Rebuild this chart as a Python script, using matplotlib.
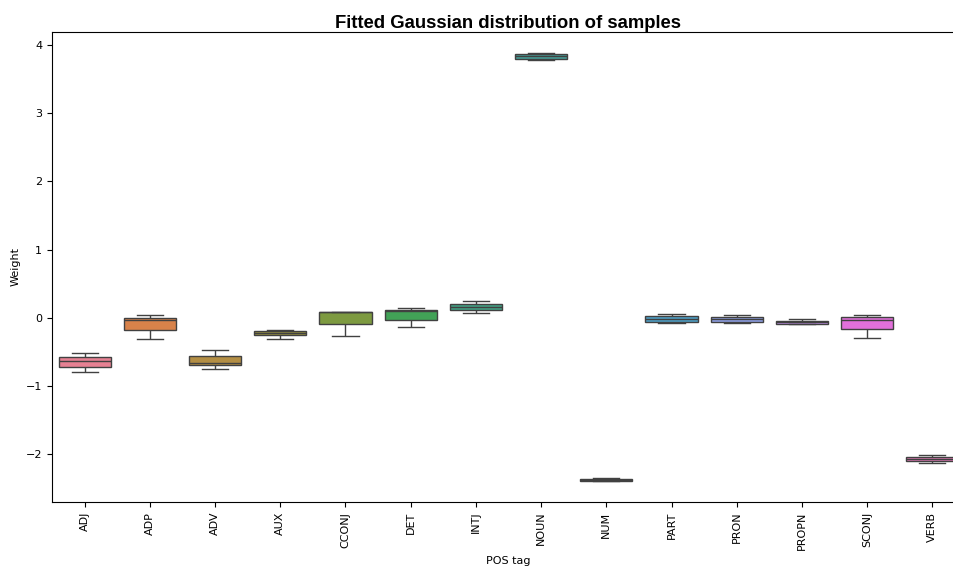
import matplotlib
matplotlib.use("Agg")
import matplotlib.pyplot as plt
import seaborn as sns
import numpy as np
import pandas as pd

tags = ["ADJ", "ADP", "ADV", "AUX", "CCONJ", "DET", "INTJ", "NOUN", "NUM",
        "PART", "PRON", "PROPN", "SCONJ", "VERB"]
whislo = [-0.80, -0.31, -0.743, -0.307, -0.26, -0.13, 0.073, 3.776, -2.395,
          -0.083, -0.078, -0.088, -0.29, -2.135]
q1 = [-0.718, -0.18, -0.69, -0.254, -0.088, -0.025, 0.113, 3.79, -2.388,
      -0.054, -0.059, -0.085, -0.16, -2.105]
med = [-0.63, -0.035, -0.655, -0.225, 0.083, 0.10, 0.16, 3.84, -2.375,
       -0.015, -0.02, -0.059, -0.034, -2.076]
q3 = [-0.571, 0.0, -0.567, -0.195, 0.085, 0.117, 0.20, 3.868, -2.362,
      0.02, 0.01, -0.044, 0.005, -2.047]
whishi = [-0.513, 0.044, -0.479, -0.18, 0.088, 0.151, 0.249, 3.887, -2.355,
          0.054, 0.04, -0.02, 0.04, -2.012]

rows = []
for i, t in enumerate(tags):
    for v in (whislo[i], q1[i], med[i], q3[i], whishi[i]):
        rows.append((t, v))
df = pd.DataFrame(rows, columns=["POS tag", "Weight"])

plt.rcParams["font.size"] = 8
fig = plt.figure(figsize=(9.54, 5.69), dpi=100)
ax = fig.add_axes([52 / 954, 1 - 502 / 569, (965 - 52) / 954, (502 - 32) / 569])
sns.boxplot(data=df, x="POS tag", y="Weight", hue="POS tag", palette="husl",
            legend=False, whis=np.inf, ax=ax, order=tags)
ax.set_ylim(-2.70, 4.19)
ax.set_yticks([-2, -1, 0, 1, 2, 3, 4])
ax.tick_params(axis="both", labelsize=8)
ax.tick_params(axis="x", labelrotation=90)
ax.set_xlabel("POS tag", fontsize=8)
ax.set_ylabel("Weight", fontsize=8)
ax.set_title("Fitted Gaussian distribution of samples", fontsize=13.3,
             fontweight="bold", family="Liberation Sans", pad=3)
fig.savefig("out.png", dpi=100)
